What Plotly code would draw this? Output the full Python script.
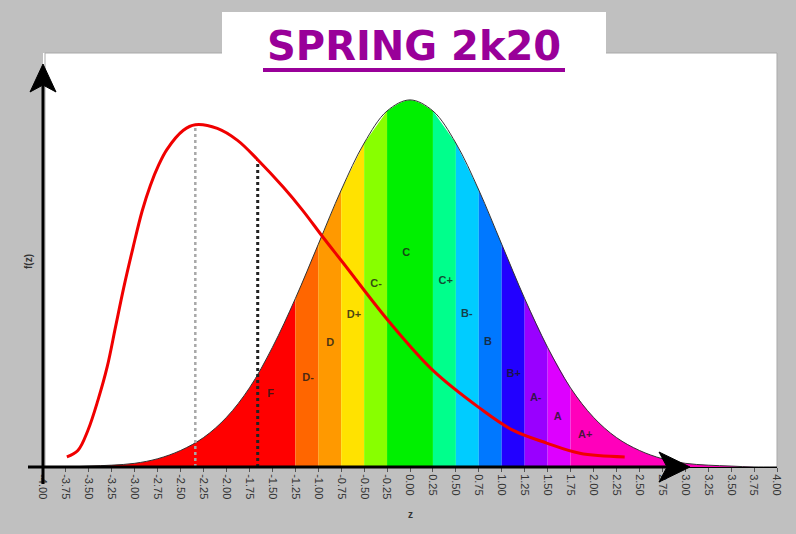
"""Grade curve meme: normal bell with grade bands vs a skewed class distribution."""

import plotly.graph_objects as go

# bell curve at every 0.25 of z
BELL_Z = [
    -4.0, -3.75, -3.5, -3.25, -3.0, -2.75, -2.5, -2.25, -2.0, -1.75, -1.5, -1.25, -1.0,
    -0.75, -0.5, -0.25, 0.0, 0.25, 0.5, 0.75, 1.0, 1.25, 1.5, 1.75, 2.0, 2.25, 2.5,
    2.75, 3.0, 3.25, 3.5, 3.75, 4.0,
]
BELL_F = [
    0.000, 0.000, 0.001, 0.002, 0.004, 0.009, 0.018, 0.032, 0.054, 0.086, 0.130, 0.183, 0.242,
    0.301, 0.352, 0.387, 0.399, 0.387, 0.352, 0.301, 0.242, 0.183, 0.130, 0.086, 0.054, 0.032,
    0.018, 0.009, 0.004, 0.002, 0.001, 0.000, 0.000,
]

BAND_EDGES = [-4.0, -1.25, -1.0, -0.75, -0.5, -0.25, 0.25, 0.5, 0.75, 1.0, 1.25, 1.5, 1.75, 4.0]
BAND_COLORS = [
    "#ff0000", "#ff6600", "#ff9900", "#ffe200", "#88ff00", "#00f000", "#00ff8c",
    "#00ccff", "#0078ff", "#2200ff", "#9900ff", "#dd00ff", "#ff00bb",
]

GRADES = ["F", "D-", "D", "D+", "C-", "C", "C+", "B-", "B", "B+", "A-", "A", "A+"]
GRADE_Z = [-1.52, -1.11, -0.87, -0.61, -0.37, -0.04, 0.39, 0.62, 0.85, 1.13, 1.37, 1.61, 1.91]
GRADE_F = [0.079, 0.097, 0.134, 0.165, 0.199, 0.232, 0.202, 0.166, 0.136, 0.101, 0.075, 0.054, 0.034]

# the skewed red curve
CLASS_Z = [
    -3.74, -3.62, -3.51, -3.40, -3.30, -3.21, -3.12, -3.02, -2.92, -2.83, -2.74, -2.65, -2.47,
    -2.34, -2.10, -1.88, -1.66, -1.38, -1.17, -0.95, -0.73, -0.22, 0.25, 0.76, 1.12, 1.49,
    1.85, 2.34,
]
CLASS_F = [
    0.011, 0.018, 0.040, 0.073, 0.109, 0.152, 0.195, 0.238, 0.278, 0.306, 0.328, 0.345, 0.366,
    0.372, 0.368, 0.355, 0.334, 0.304, 0.279, 0.250, 0.222, 0.157, 0.105, 0.064, 0.040, 0.026,
    0.015, 0.011,
]

MODE_Z, MODE_F = -2.34, 0.372
MARK_Z, MARK_F = -1.66, 0.334

TICK_VALS = [v / 4 for v in range(-16, 17)]
TICK_TEXT = [f"{v:.2f}" for v in TICK_VALS]

# pixel frame of the plot area (used for decorations only)
LEFT, TOP, RIGHT, BOTTOM = 43, 53, 777, 467


def px(x):
    return (x - LEFT) / (RIGHT - LEFT)


def py(y):
    return (BOTTOM - y) / (BOTTOM - TOP)


fig = go.Figure()

for lo, hi, color in zip(BAND_EDGES[:-1], BAND_EDGES[1:], BAND_COLORS):
    pts = [(z, f) for z, f in zip(BELL_Z, BELL_F) if lo <= z <= hi]
    fig.add_trace(
        go.Scatter(
            x=[p[0] for p in pts],
            y=[p[1] for p in pts],
            mode="lines",
            fill="tozeroy",
            fillcolor=color,
            line={"color": color, "width": 0, "shape": "spline"},
            hoverinfo="skip",
        )
    )

fig.add_trace(
    go.Scatter(
        x=BELL_Z,
        y=BELL_F,
        mode="lines",
        line={"color": "#333333", "width": 1, "shape": "spline"},
        hoverinfo="skip",
    )
)

fig.add_trace(
    go.Scatter(
        x=[MODE_Z, MODE_Z],
        y=[0, MODE_F],
        mode="lines",
        line={"color": "#a8a8a8", "width": 2.5, "dash": "dot"},
        hoverinfo="skip",
    )
)
fig.add_trace(
    go.Scatter(
        x=[MARK_Z, MARK_Z],
        y=[0, MARK_F],
        mode="lines",
        line={"color": "#222222", "width": 3, "dash": "dot"},
        hoverinfo="skip",
    )
)

fig.add_trace(
    go.Scatter(
        x=CLASS_Z,
        y=CLASS_F,
        mode="lines",
        line={"color": "#f00000", "width": 3, "shape": "spline", "smoothing": 1.0},
        hoverinfo="skip",
    )
)

fig.add_trace(
    go.Scatter(
        x=GRADE_Z,
        y=GRADE_F,
        mode="text",
        text=GRADES,
        textfont={"family": "Liberation Sans, Arial", "size": 11, "color": "rgba(25,25,25,0.8)",
                  "weight": "bold"},
        hoverinfo="skip",
    )
)

shapes = [
    # plot frame
    dict(type="rect", xref="paper", yref="paper", x0=px(45), x1=1, y0=0, y1=1,
         line={"color": "#a9a9a9", "width": 1}, layer="below"),
    # title box
    dict(type="rect", xref="paper", yref="paper", x0=px(222), x1=px(606), y0=py(56), y1=py(12),
         fillcolor="white", line={"width": 0}),
    # title underline
    dict(type="line", xref="paper", yref="paper", x0=px(263), x1=px(565), y0=py(70), y1=py(70),
         line={"color": "#990099", "width": 4}),
    # y axis with arrow
    dict(type="line", xref="paper", yref="paper", x0=px(43), x1=px(43), y0=py(484), y1=py(82),
         line={"color": "black", "width": 3}),
    dict(type="path", xref="paper", yref="paper", fillcolor="black", line={"color": "black", "width": 1},
         path=f"M {px(43)},{py(64)} L {px(30)},{py(92)} L {px(43)},{py(85)} L {px(56)},{py(92)} Z"),
    # x axis with arrow
    dict(type="line", xref="paper", yref="paper", x0=px(28), x1=px(672), y0=py(467), y1=py(467),
         line={"color": "black", "width": 3}),
    dict(type="path", xref="paper", yref="paper", fillcolor="black", line={"color": "black", "width": 1},
         path=f"M {px(690)},{py(467)} L {px(659)},{py(452)} L {px(667)},{py(467)} L {px(659)},{py(482)} Z"),
]

annotations = [
    dict(text="SPRING 2k20", xref="paper", yref="paper", x=px(414), y=py(46),
         showarrow=False, xanchor="center", yanchor="middle",
         font={"family": "DejaVu Sans", "size": 40, "color": "#990099", "weight": "bold"}),
    dict(text="z", xref="paper", yref="paper", x=px(410), y=py(514), showarrow=False,
         xanchor="center", yanchor="middle",
         font={"family": "Liberation Sans, Arial", "size": 10, "color": "#333333", "weight": "bold"}),
    dict(text="f(z)", xref="paper", yref="paper", x=px(28), y=py(262), showarrow=False, textangle=-90,
         xanchor="center", yanchor="middle",
         font={"family": "Liberation Sans, Arial", "size": 10, "color": "#333333", "weight": "bold"}),
]

fig.update_layout(
    width=796,
    height=534,
    margin={"l": LEFT, "r": 796 - RIGHT, "t": TOP, "b": 534 - BOTTOM},
    paper_bgcolor="#c0c0c0",
    plot_bgcolor="white",
    showlegend=False,
    shapes=shapes,
    annotations=annotations,
    xaxis={
        "range": [-4, 4],
        "tickvals": TICK_VALS,
        "ticktext": TICK_TEXT,
        "tickangle": 90,
        "ticks": "outside",
        "ticklen": 4,
        "tickcolor": "#555555",
        "tickfont": {"family": "Liberation Sans, Arial", "size": 11, "color": "#333333"},
        "showgrid": False,
        "zeroline": False,
        "showline": True,
        "linecolor": "black",
        "linewidth": 1,
    },
    yaxis={"range": [0, 0.45], "visible": False},
)

# drop the browser's default body margin so the figure sits at the page corner
fig.write_html(
    "out.html",
    config={"displayModeBar": False},
    post_script="document.body.style.margin = '0';",
)
